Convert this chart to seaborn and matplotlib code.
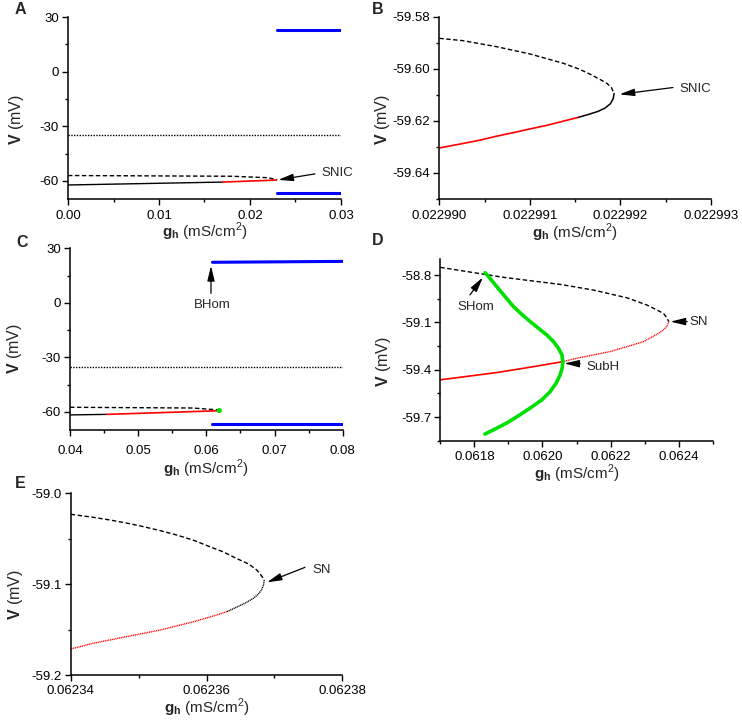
import matplotlib
matplotlib.use("Agg")
import matplotlib.pyplot as plt
from matplotlib.ticker import MultipleLocator, FormatStrFormatter
import seaborn as sns

# ---- panel A: gh 0 - 0.03 ----
a_blue_x = [0.02293, 0.0300]
a_blue_hi = [22.9, 22.9]
a_blue_lo = [-66.6, -66.6]
a_dot_x = [0.0, 0.03]
a_dot_v = [-35.0, -35.0]
a_unst_x = [0.0, 0.018, 0.022, 0.02299]
a_unst_v = [-57.1, -57.5, -58.3, -59.5]
a_black_x = [0.0, 0.017]
a_black_v = [-62.3, -60.7]
a_red_x = [0.017, 0.0229]
a_red_v = [-60.7, -59.6]

# ---- panel B: zoom on SNIC ----
b_up_x = [0.0229900, 0.02299026, 0.02299063, 0.02299100, 0.02299137, 0.02299155,
          0.02299166, 0.02299177, 0.02299185, 0.02299190, 0.02299193]
b_up_v = [-59.5883, -59.5892, -59.5915, -59.5943, -59.5979, -59.6002,
          -59.6020, -59.6040, -59.6056, -59.6072, -59.6095]
b_black_x = [0.02299193, 0.02299192, 0.02299189, 0.02299183, 0.02299175, 0.02299164, 0.02299153]
b_black_v = [-59.6095, -59.6115, -59.6134, -59.6151, -59.6164, -59.6176, -59.6187]
b_red_x = [0.02299153, 0.02299137, 0.02299119, 0.02299100, 0.02299082, 0.02299063,
           0.02299045, 0.02299026, 0.0229900]
b_red_v = [-59.6187, -59.6201, -59.6217, -59.6231, -59.6245, -59.6259,
           -59.6274, -59.6287, -59.6304]

# ---- panel C: gh 0.04 - 0.08 ----
c_blue_x = [0.0609, 0.0800]
c_blue_hi = [22.3, 22.8]
c_blue_lo = [-66.9, -66.9]
c_dot_x = [0.04, 0.08]
c_dot_v = [-35.2, -35.2]
c_unst_x = [0.04, 0.058, 0.0623]
c_unst_v = [-57.5, -57.9, -59.1]
c_black_x = [0.04, 0.0454]
c_black_v = [-61.7, -61.4]
c_red_x = [0.0454, 0.0619]
c_red_v = [-61.4, -59.4]
c_green_x = [0.0619]
c_green_v = [-59.3]

# ---- panel D: zoom near gh 0.062 ----
d_up_x = [0.06170, 0.061888, 0.062052, 0.062150, 0.062248, 0.062307, 0.062346,
          0.062358, 0.062366, 0.062371]
d_up_v = [-58.751, -58.815, -58.859, -58.895, -58.944, -58.990, -59.032,
          -59.049, -59.074, -59.095]
d_reddot_x = [0.062371, 0.062366, 0.062358, 0.062346, 0.062297, 0.062199, 0.062101, 0.062057]
d_reddot_v = [-59.095, -59.121, -59.142, -59.163, -59.222, -59.285, -59.327, -59.350]
d_red_x = [0.062057, 0.061964, 0.061866, 0.06170]
d_red_v = [-59.350, -59.384, -59.418, -59.464]
d_green_x = [0.0618315, 0.0618462, 0.061866, 0.0618903, 0.061915, 0.0619394, 0.061964,
             0.0619882, 0.062013, 0.0620324, 0.062047, 0.0620571, 0.062060, 0.0620579,
             0.062052, 0.0620403, 0.062023, 0.0619982, 0.061964, 0.0619294, 0.061895,
             0.0618609, 0.061831]
d_green_v = [-58.785, -58.821, -58.874, -58.937, -59.000, -59.049, -59.095,
             -59.137, -59.180, -59.222, -59.264, -59.306, -59.348, -59.390,
             -59.433, -59.485, -59.538, -59.591, -59.643, -59.692, -59.738,
             -59.776, -59.808]

# ---- panel E: zoom on SN ----
e_up_x = [0.0623400, 0.0623433, 0.0623458, 0.0623482, 0.0623507, 0.0623532, 0.0623556,
          0.0623581, 0.0623605, 0.0623625, 0.0623644, 0.0623662, 0.0623674, 0.0623681,
          0.0623685]
e_up_v = [-59.0231, -59.0264, -59.0294, -59.0327, -59.0367, -59.0411, -59.0459,
          -59.0517, -59.0588, -59.0646, -59.0716, -59.0778, -59.0844, -59.0907,
          -59.0954]
e_black_x = [0.0623685, 0.0623684, 0.0623681, 0.0623676, 0.0623669, 0.0623659,
             0.0623644, 0.0623630]
e_black_v = [-59.0954, -59.1009, -59.1064, -59.1112, -59.1156, -59.1200,
             -59.1255, -59.1303]
e_red_x = [0.0623630, 0.0623605, 0.0623581, 0.0623532, 0.0623482, 0.0623433, 0.0623400]
e_red_v = [-59.1303, -59.1362, -59.1413, -59.1505, -59.1578, -59.1651, -59.1714]

sns.set_style("ticks")
plt.rcParams['font.family'] = ['Liberation Sans', 'DejaVu Sans']
plt.rcParams['mathtext.fontset'] = 'custom'
plt.rcParams['mathtext.rm'] = 'Liberation Sans'
plt.rcParams['mathtext.bf'] = 'Liberation Sans:bold'
plt.rcParams['axes.unicode_minus'] = False

DASH = (0, (3.2, 1.8))
DOT = (0, (1, 1))
FINE = (0, (0.8, 0.5))


def curve(ax, x, v, color, ls='-', lw=1.0):
    sns.lineplot(x=x, y=v, ax=ax, color=color, linestyle=ls, linewidth=lw,
                 sort=False, estimator=None)


def style_axes(ax, xlim, ylim, xmaj, xmin, ymaj, ymin, xfmt, yfmt, ylab_pos, xlab_y,
               xpad=4, fs=9.5):
    ax.set_xlim(*xlim)
    ax.set_ylim(*ylim)
    ax.xaxis.set_major_locator(MultipleLocator(xmaj))
    ax.xaxis.set_minor_locator(MultipleLocator(xmin))
    ax.yaxis.set_major_locator(MultipleLocator(ymaj))
    ax.yaxis.set_minor_locator(MultipleLocator(ymin))
    ax.xaxis.set_major_formatter(FormatStrFormatter(xfmt))
    ax.yaxis.set_major_formatter(FormatStrFormatter(yfmt))
    sns.despine(ax=ax)
    for s in ['left', 'bottom']:
        ax.spines[s].set_linewidth(1.1)
        ax.spines[s].set_color('black')
    ax.tick_params(which='major', length=4, width=1.0, labelsize=fs, pad=2.5, colors='black')
    ax.tick_params(which='minor', length=2, width=1.0, colors='black')
    ax.tick_params(axis='x', which='major', pad=xpad)
    ax.set_ylabel(r'$\mathbf{V}$ (mV)', fontsize=11.5)
    ax.set_xlabel(r'$\mathbf{g_h}$ (mS/cm$^2$)', fontsize=11)
    ax.yaxis.set_label_coords(*ylab_pos)
    ax.xaxis.set_label_coords(0.5, xlab_y)
    ax.yaxis.label.set_va('center')
    ax.xaxis.label.set_va('center')


def arrow(ax, tail, tip):
    ax.annotate('', xy=tip, xytext=tail,
                arrowprops=dict(arrowstyle='-|>,head_length=0.9,head_width=0.22',
                                color='black', lw=0.9, shrinkA=0, shrinkB=0))


W, H = 742, 721
fig = plt.figure(figsize=(7.42, 7.21), dpi=100)


def box(l, r, t, b):
    return [l / W, 1 - b / H, (r - l) / W, (b - t) / H]


axA = fig.add_axes(box(68, 341, 17, 199))
axB = fig.add_axes(box(439.3, 711, 16.7, 199))
axC = fig.add_axes(box(70, 342.7, 248.3, 430))
axD = fig.add_axes(box(440.3, 712.7, 259.3, 440.7))
axE = fig.add_axes(box(70.7, 342.3, 493.3, 675))

# A
curve(axA, a_blue_x, a_blue_hi, '#0000ff', lw=2.2)
curve(axA, a_blue_x, a_blue_lo, '#0000ff', lw=2.2)
curve(axA, a_dot_x, a_dot_v, 'black', DOT, lw=1.0)
curve(axA, a_unst_x, a_unst_v, 'black', DASH, lw=1.0)
curve(axA, a_black_x, a_black_v, 'black', lw=1.0)
curve(axA, a_red_x, a_red_v, '#ff0000', lw=1.2)
arrow(axA, (0.02714, -56.2), (0.02311, -59.5))
axA.text(0.02790, -55.8, 'SNIC', fontsize=9.5, va='center', ha='left')
style_axes(axA, (0, 0.03), (-70, 30), 0.01, 0.005, 30, 15, '%.2f', '%d',
           (-0.188, 0.434), -0.18)

# B
curve(axB, b_up_x, b_up_v, 'black', DASH, lw=1.0)
curve(axB, b_black_x, b_black_v, 'black', lw=1.1)
curve(axB, b_red_x, b_red_v, '#ff0000', lw=1.2)
arrow(axB, (0.02299258, -59.6072), (0.02299199, -59.6098))
axB.text(0.02299265, -59.6079, 'SNIC', fontsize=9.5, va='center', ha='left')
style_axes(axB, (0.022990, 0.022993), (-59.65, -59.58), 1e-6, 5e-7, 0.02, 0.01,
           '%.6f', '%.2f', (-0.208, 0.433), -0.185)

# C
curve(axC, c_blue_x, c_blue_hi, '#0000ff', lw=2.2)
curve(axC, c_blue_x, c_blue_lo, '#0000ff', lw=2.2)
curve(axC, c_dot_x, c_dot_v, 'black', DOT, lw=1.0)
curve(axC, c_unst_x, c_unst_v, 'black', DASH, lw=1.0)
curve(axC, c_black_x, c_black_v, 'black', lw=1.0)
curve(axC, c_red_x, c_red_v, '#ff0000', lw=1.2)
sns.scatterplot(x=c_green_x, y=c_green_v, ax=axC, color='#00e000', s=14,
                edgecolor='none', zorder=5)
arrow(axC, (0.06068, 5.2), (0.06068, 20.3))
axC.text(0.0609, -1.2, 'BHom', fontsize=9.5, va='center', ha='center')
style_axes(axC, (0.04, 0.08), (-70, 30), 0.01, 0.005, 30, 15, '%.2f', '%d',
           (-0.202, 0.45), -0.212, xpad=6.5)

# D
curve(axD, d_up_x, d_up_v, 'black', DASH, lw=1.0)
curve(axD, d_reddot_x, d_reddot_v, '#ff0000', FINE, lw=1.0)
curve(axD, d_red_x, d_red_v, '#ff0000', lw=1.2)
curve(axD, d_green_x, d_green_v, '#00e000', lw=2.6)
arrow(axD, (0.061787, -58.926), (0.061825, -58.815))
axD.text(0.061805, -59.0, 'SHom', fontsize=9.5, va='center', ha='center')
arrow(axD, (0.062425, -59.095), (0.062376, -59.095))
axD.text(0.062432, -59.095, 'SN', fontsize=9.5, va='center', ha='left')
arrow(axD, (0.062111, -59.362), (0.062064, -59.360))
axD.text(0.062128, -59.383, 'SubH', fontsize=9.5, va='center', ha='left')
style_axes(axD, (0.0617, 0.0625), (-59.85, -58.7), 0.0002, 0.0001, 0.3, 0.15,
           '%.4f', '%.1f', (-0.208, 0.435), -0.18, xpad=3.5)

# E
curve(axE, e_up_x, e_up_v, 'black', DASH, lw=1.0)
curve(axE, e_black_x, e_black_v, 'black', FINE, lw=1.0)
curve(axE, e_red_x, e_red_v, '#ff0000', FINE, lw=1.0)
arrow(axE, (0.0623745, -59.0815), (0.0623689, -59.098))
axE.text(0.0623756, -59.0844, 'SN', fontsize=9.5, va='center', ha='left')
style_axes(axE, (0.06234, 0.06238), (-59.2, -59.0), 0.00002, 0.00001, 0.1, 0.05,
           '%.5f', '%.1f', (-0.205, 0.44), -0.183, xpad=3)

for lab, px, py in [('A', 20.7, 10), ('B', 378, 10), ('C', 21.7, 242.7),
                    ('D', 378, 240.7), ('E', 20, 483.3)]:
    fig.text(px / W, 1 - py / H, lab, fontsize=11.5, fontweight='bold',
             ha='center', va='center')

fig.savefig('out.png', dpi=100)
